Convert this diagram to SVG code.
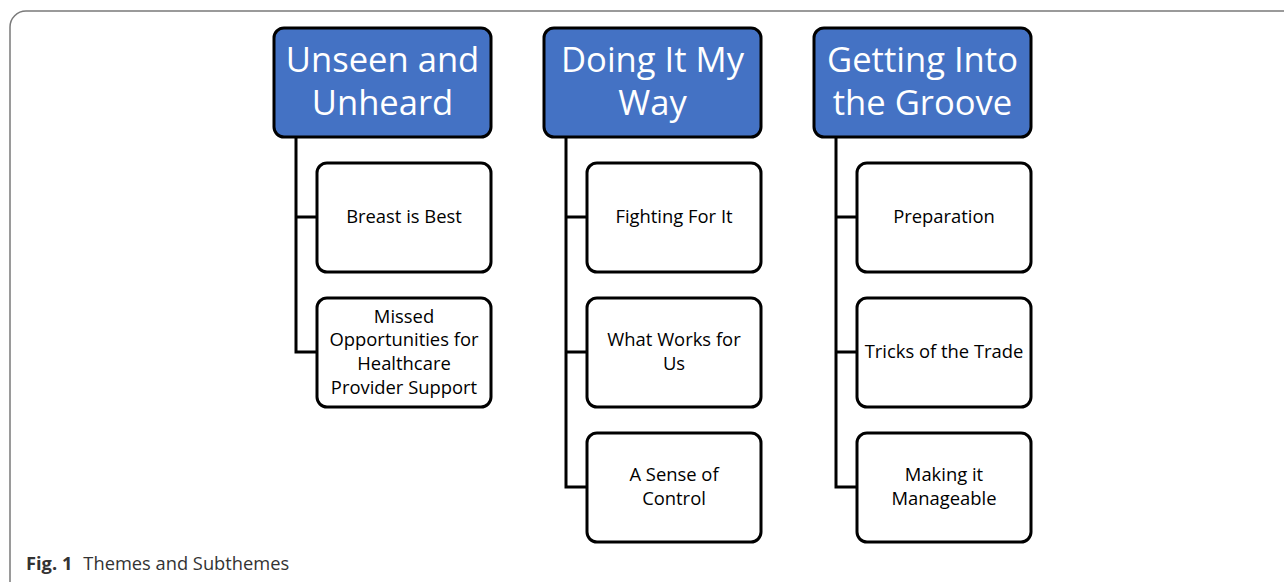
<svg xmlns="http://www.w3.org/2000/svg" width="1284" height="582" viewBox="0 0 1284 582">
<style>
.frame{fill:#fff;stroke:#7a7a7a;stroke-width:1.5}
.theme{fill:#4472C4;stroke:#000;stroke-width:3}
.sub{fill:#fff;stroke:#000;stroke-width:3}
.tt{font-family:"Open Sans","Noto Sans",sans-serif;font-size:34.6px;fill:#fff;text-anchor:middle}
.st{font-family:"Open Sans","Noto Sans",sans-serif;font-size:18.4px;fill:#000;text-anchor:middle}
.conn{fill:none;stroke:#000;stroke-width:3}
.cap{font-family:"Open Sans","Noto Sans",sans-serif;font-size:18.3px;fill:#333}
</style>
<rect class="frame" x="10" y="11" width="1300" height="600" rx="16"/>
<g id="connectors">
<path class="conn" d="M296 137V352H317M296 217H317"/>
<path class="conn" d="M566 137V487H587M566 217H587M566 352H587"/>
<path class="conn" d="M836 137V487H857M836 217H857M836 352H857"/>
</g>
<g id="theme1"><rect class="theme" x="274" y="28" width="217" height="109" rx="10"/><text class="tt" x="382.5" y="72">Unseen and</text><text class="tt" x="382.5" y="115">Unheard</text></g>
<g id="theme2"><rect class="theme" x="544" y="28" width="217" height="109" rx="10"/><text class="tt" x="652.5" y="72">Doing It My</text><text class="tt" x="652.5" y="115">Way</text></g>
<g id="theme3"><rect class="theme" x="814" y="28" width="217" height="109" rx="10"/><text class="tt" x="922.5" y="72">Getting Into</text><text class="tt" x="922.5" y="115">the Groove</text></g>
<g id="sub1a"><rect class="sub" x="317" y="163" width="174" height="109" rx="10"/><text class="st" x="404" y="223">Breast is Best</text></g>
<g id="sub1b"><rect class="sub" x="317" y="298" width="174" height="109" rx="10"/><text class="st" x="404" y="323">Missed</text><text class="st" x="404" y="346">Opportunities for</text><text class="st" x="404" y="370">Healthcare</text><text class="st" x="404" y="394">Provider Support</text></g>
<g id="sub2a"><rect class="sub" x="587" y="163" width="174" height="109" rx="10"/><text class="st" x="674" y="223">Fighting For It</text></g>
<g id="sub2b"><rect class="sub" x="587" y="298" width="174" height="109" rx="10"/><text class="st" x="674" y="346">What Works for</text><text class="st" x="674" y="370">Us</text></g>
<g id="sub2c"><rect class="sub" x="587" y="433" width="174" height="109" rx="10"/><text class="st" x="674" y="481">A Sense of</text><text class="st" x="674" y="505">Control</text></g>
<g id="sub3a"><rect class="sub" x="857" y="163" width="174" height="109" rx="10"/><text class="st" x="944" y="223">Preparation</text></g>
<g id="sub3b"><rect class="sub" x="857" y="298" width="174" height="109" rx="10"/><text class="st" x="944" y="358">Tricks of the Trade</text></g>
<g id="sub3c"><rect class="sub" x="857" y="433" width="174" height="109" rx="10"/><text class="st" x="944" y="481">Making it</text><text class="st" x="944" y="505">Manageable</text></g>
<text class="cap" x="26" y="570"><tspan font-weight="bold">Fig. 1</tspan><tspan dx="11">Themes and Subthemes</tspan></text>
</svg>
